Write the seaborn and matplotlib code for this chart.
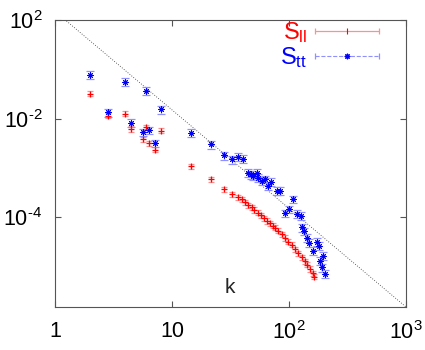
import numpy as np
import pandas as pd
import matplotlib
matplotlib.use("Agg")
import matplotlib.pyplot as plt
import seaborn as sns
from matplotlib.lines import Line2D
from matplotlib.legend_handler import HandlerBase
from matplotlib.ticker import NullLocator

# ---------------- data ----------------
k_ll = [2.0, 2.83, 4.0, 4.47, 5.66, 6.0, 6.32, 7.21, 8.0, 14.4, 21.7, 27.8, 32.3,
        36.6, 39.4, 42.1, 44.9, 48.0, 50.5, 54.0, 57.6, 61.5, 65.3, 68.8, 72.3,
        75.9, 80.5, 86.6, 92.5, 98.6, 105.4, 112.5, 120.0, 128.5, 137.0, 143.3,
        151.0, 159.5, 163.6]
s_ll = [3.2e-2, 1.15e-2, 1.26e-2, 6.2e-3, 3.76e-3, 6.67e-3, 3.17e-3, 2.33e-3,
        5.72e-3, 1.09e-3, 5.86e-4, 3.68e-4, 2.92e-4, 2.54e-4, 2.31e-4, 1.98e-4,
        1.75e-4, 1.57e-4, 1.40e-4, 1.24e-4, 1.10e-4, 9.4e-5, 8.4e-5, 7.5e-5,
        6.7e-5, 6.1e-5, 5.3e-5, 4.5e-5, 3.8e-5, 3.2e-5, 2.75e-5, 2.26e-5,
        1.85e-5, 1.53e-5, 1.27e-5, 1.09e-5, 8.9e-6, 7.3e-6, 6.2e-6]

k_tt = [2.0, 2.83, 4.0, 4.47, 5.66, 6.0, 6.32, 7.21, 8.0, 14.4, 21.7, 27.8, 32.3,
        36.9, 40.1, 44.9, 47.3, 49.5, 53.0, 54.7, 58.4, 62.4, 66.5, 70.2, 78.5,
        83.8, 92.5, 100.0, 108.9, 117.0, 125.4, 129.0, 134.0, 142.5, 147.4,
        161.4, 172.5, 179.4, 185.2, 190.2, 196.4, 203.0]
s_tt = [7.74e-2, 1.34e-2, 5.51e-2, 8.19e-3, 5.29e-3, 3.68e-2, 5.80e-3, 3.17e-3,
        1.54e-2, 5.14e-3, 2.98e-3, 1.79e-3, 1.49e-3, 1.68e-3, 1.52e-3, 8.0e-4,
        7.4e-4, 6.8e-4, 8.0e-4, 6.3e-4, 5.4e-4, 5.9e-4, 4.3e-4, 5.2e-4, 3.4e-4,
        3.4e-4, 1.20e-4, 1.45e-4, 2.31e-4, 1.18e-4, 1.06e-4, 6.2e-5, 5.2e-5,
        3.85e-5, 3.05e-5, 2.08e-5, 3.2e-5, 2.63e-5, 1.31e-5, 9.6e-6, 1.65e-5,
        7.05e-6]

ll_relerr = 0.12
tt_relerr = 0.18

ref_k = [1.0, 1000.0]
ref_s = [1.5, 1.5e-6]

x_ticks = [1, 10, 100, 1000]
x_ticklabels = ["1", "10", r"10$^{\mathregular{2}}$", r"10$^{\mathregular{3}}$"]
y_ticks = [1.0, 1e-2, 1e-4]
y_ticklabels = [r"10$^{\mathregular{2}}$", "10$^{\\mathregular{\u20102}}$",
                "10$^{\\mathregular{\u20104}}$"]

labels = [r"S$_{\mathregular{ll}}$", r"S$_{\mathregular{tt}}$"]

# ---------------- style ----------------
sns.set_theme(style="ticks")
plt.rcParams["font.family"] = ["Liberation Sans", "DejaVu Sans"]
plt.rcParams["mathtext.fontset"] = "custom"
plt.rcParams["mathtext.rm"] = "Liberation Sans"
plt.rcParams["mathtext.it"] = "Liberation Sans:italic"
plt.rcParams["mathtext.bf"] = "Liberation Sans:bold"

RED = "#ff0000"
BLUE = "#0000ff"
RED_L = "#ff9090"
BLUE_L = "#9090ff"
AX_C = "#555555"

fig = plt.figure(figsize=(4.25, 3.5), dpi=100)
ax = fig.add_axes([55 / 425, 43 / 350, 351 / 425, 287 / 350])
ax.set_xscale("log")
ax.set_yscale("log")

df_ll = pd.DataFrame({"k": k_ll, "S": s_ll})
df_tt = pd.DataFrame({"k": k_tt, "S": s_tt})
df_ref = pd.DataFrame({"k": ref_k, "S": ref_s})

# reference power law
sns.lineplot(data=df_ref, x="k", y="S", ax=ax, color="#333333",
             linestyle=(0, (1, 2)), linewidth=0.6, legend=False)

# error bars
eb = ax.errorbar(df_ll["k"], df_ll["S"], yerr=df_ll["S"] * ll_relerr, fmt="none",
                 ecolor=RED_L, elinewidth=0.9, capsize=2.2, capthick=0.9)
eb2 = ax.errorbar(df_tt["k"], df_tt["S"], yerr=df_tt["S"] * tt_relerr, fmt="none",
                  ecolor=BLUE_L, elinewidth=0.9, capsize=2.8, capthick=0.9)
for lc in eb2[2]:
    lc.set_linestyle((0, (1, 1)))

# markers
sns.scatterplot(data=df_ll, x="k", y="S", ax=ax, marker="+", color=RED,
                s=16, linewidth=0.9, legend=False, zorder=3)
sns.scatterplot(data=df_tt, x="k", y="S", ax=ax, marker=(8, 2, 0), color=BLUE,
                s=15, linewidth=0.7, legend=False, zorder=3)

ax.set_xlim(1, 1000)
ax.set_ylim(1.5e-6, 1.0)
ax.set_xticks(x_ticks)
ax.set_xticklabels(x_ticklabels)
ax.set_yticks(y_ticks)
ax.set_yticklabels(y_ticklabels)
ax.xaxis.set_minor_locator(NullLocator())
ax.yaxis.set_minor_locator(NullLocator())
ax.tick_params(which="both", direction="in", top=True, right=True, length=4,
               width=0.8, color=AX_C, labelsize=15.5, labelcolor="black")
ax.tick_params(axis="x", pad=10)
ax.tick_params(axis="y", pad=9)
for sp in ax.spines.values():
    sp.set_color(AX_C)
    sp.set_linewidth(0.8)
ax.set_xlabel("")
ax.set_ylabel("")

ax.text((225 - 55) / 351, (307 - 293) / 287, "k", transform=ax.transAxes,
        ha="left", va="baseline", fontsize=15)


# legend
class SampleHandler(HandlerBase):
    def create_artists(self, legend, orig_handle, xdescent, ydescent, width,
                       height, fontsize, trans):
        y = height / 2 - ydescent
        x0 = -xdescent
        x1 = x0 + width
        col = orig_handle.get_color()
        line = Line2D([x0, x1], [y, y], color=col, lw=orig_handle.get_linewidth(),
                      ls=orig_handle.get_linestyle())
        ends = Line2D([x0, x1], [y, y], ls="none", marker="|", ms=4, mew=0.9,
                      color=col)
        mid = Line2D([(x0 + x1) / 2], [y], ls="none",
                     marker=orig_handle.get_marker(),
                     ms=orig_handle.get_markersize(), mew=0.8,
                     color=orig_handle.get_markeredgecolor())
        for a in (line, ends, mid):
            a.set_transform(trans)
        return [line, ends, mid]


h_ll = Line2D([], [], color=RED_L, ls="-", lw=0.9, marker="|", mec=RED, ms=4)
h_tt = Line2D([], [], color=BLUE_L, ls=(0, (1, 1.5)), lw=0.8, marker=(8, 2, 0),
              mec=BLUE, ms=4)
leg = ax.legend([h_ll, h_tt], labels, handler_map={Line2D: SampleHandler()},
                loc="upper right", bbox_to_anchor=((379 - 55) / 351, 1.0),
                frameon=False, markerfirst=False, handlelength=2.7,
                handletextpad=0.35, labelspacing=0.0, borderpad=0,
                borderaxespad=0, fontsize=17)
for t, c in zip(leg.get_texts(), [RED, BLUE]):
    t.set_color(c)

fig.savefig("out.png", dpi=100)
